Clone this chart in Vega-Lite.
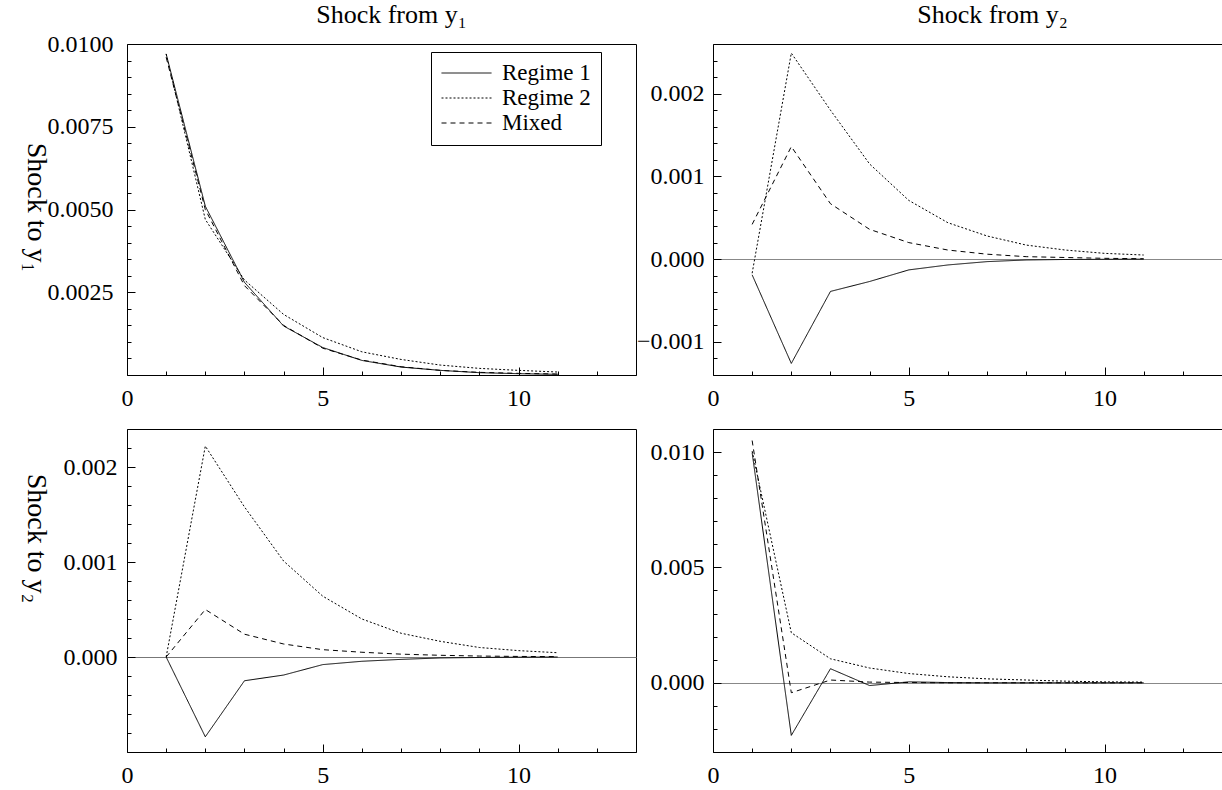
{
  "$schema": "https://vega.github.io/schema/vega-lite/v6.json",
  "padding": {"left": 20, "top": 1, "right": 0, "bottom": 0},
  "background": "white",
  "config": {
    "font": "Liberation Serif",
    "view": {"stroke": "black", "strokeWidth": 1},
    "axis": {
      "labelFont": "Liberation Serif",
      "labelFontSize": 24,
      "labelColor": "black",
      "tickColor": "black",
      "tickWidth": 1,
      "domain": false,
      "grid": false,
      "labelOverlap": false,
      "labelFlush": false,
      "labelBound": false,
      "titleFont": "Liberation Serif",
      "titleFontWeight": "normal",
      "titleColor": "black"
    },
    "title": {"font": "Liberation Serif", "fontSize": 26, "fontWeight": "normal", "color": "black", "anchor": "middle", "baseline": "alphabetic", "offset": 0}
  },
  "bounds": "flush",
  "columns": 2,
  "spacing": {"row": 54, "column": 77},
  "resolve": {"scale": {"strokeDash": "independent"}, "legend": {"strokeDash": "independent"}},
  "datasets": {
    "d11": [
      {"regime": "Regime 1", "t": 1, "v": 0.0097}, {"regime": "Regime 1", "t": 2, "v": 0.0051}, {"regime": "Regime 1", "t": 3, "v": 0.0028}, {"regime": "Regime 1", "t": 4, "v": 0.00148}, {"regime": "Regime 1", "t": 5, "v": 0.00083}, {"regime": "Regime 1", "t": 6, "v": 0.00044}, {"regime": "Regime 1", "t": 7, "v": 0.00024}, {"regime": "Regime 1", "t": 8, "v": 0.00014}, {"regime": "Regime 1", "t": 9, "v": 0.00007}, {"regime": "Regime 1", "t": 10, "v": 0.00004}, {"regime": "Regime 1", "t": 11, "v": 0.00002},
      {"regime": "Regime 2", "t": 1, "v": 0.0097}, {"regime": "Regime 2", "t": 2, "v": 0.0047}, {"regime": "Regime 2", "t": 3, "v": 0.00287}, {"regime": "Regime 2", "t": 4, "v": 0.00183}, {"regime": "Regime 2", "t": 5, "v": 0.00113}, {"regime": "Regime 2", "t": 6, "v": 0.0007}, {"regime": "Regime 2", "t": 7, "v": 0.00047}, {"regime": "Regime 2", "t": 8, "v": 0.0003}, {"regime": "Regime 2", "t": 9, "v": 0.0002}, {"regime": "Regime 2", "t": 10, "v": 0.00014}, {"regime": "Regime 2", "t": 11, "v": 0.00009},
      {"regime": "Mixed", "t": 1, "v": 0.0096}, {"regime": "Mixed", "t": 2, "v": 0.005}, {"regime": "Mixed", "t": 3, "v": 0.0027}, {"regime": "Mixed", "t": 4, "v": 0.0015}, {"regime": "Mixed", "t": 5, "v": 0.00081}, {"regime": "Mixed", "t": 6, "v": 0.00045}, {"regime": "Mixed", "t": 7, "v": 0.00025}, {"regime": "Mixed", "t": 8, "v": 0.00014}, {"regime": "Mixed", "t": 9, "v": 0.00008}, {"regime": "Mixed", "t": 10, "v": 0.00005}, {"regime": "Mixed", "t": 11, "v": 0.00003}
    ],
    "d12": [
      {"regime": "Regime 1", "t": 1, "v": -0.00019}, {"regime": "Regime 1", "t": 2, "v": -0.00126}, {"regime": "Regime 1", "t": 3, "v": -0.00039}, {"regime": "Regime 1", "t": 4, "v": -0.00027}, {"regime": "Regime 1", "t": 5, "v": -0.00013}, {"regime": "Regime 1", "t": 6, "v": -0.00007}, {"regime": "Regime 1", "t": 7, "v": -0.00003}, {"regime": "Regime 1", "t": 8, "v": -0.00001}, {"regime": "Regime 1", "t": 9, "v": -0.000004}, {"regime": "Regime 1", "t": 10, "v": -0.000002}, {"regime": "Regime 1", "t": 11, "v": 0},
      {"regime": "Regime 2", "t": 1, "v": -0.00017}, {"regime": "Regime 2", "t": 2, "v": 0.00249}, {"regime": "Regime 2", "t": 3, "v": 0.0018}, {"regime": "Regime 2", "t": 4, "v": 0.00115}, {"regime": "Regime 2", "t": 5, "v": 0.00071}, {"regime": "Regime 2", "t": 6, "v": 0.00044}, {"regime": "Regime 2", "t": 7, "v": 0.00028}, {"regime": "Regime 2", "t": 8, "v": 0.00017}, {"regime": "Regime 2", "t": 9, "v": 0.00011}, {"regime": "Regime 2", "t": 10, "v": 0.00007}, {"regime": "Regime 2", "t": 11, "v": 0.00005},
      {"regime": "Mixed", "t": 1, "v": 0.00042}, {"regime": "Mixed", "t": 2, "v": 0.00136}, {"regime": "Mixed", "t": 3, "v": 0.00067}, {"regime": "Mixed", "t": 4, "v": 0.00036}, {"regime": "Mixed", "t": 5, "v": 0.0002}, {"regime": "Mixed", "t": 6, "v": 0.00011}, {"regime": "Mixed", "t": 7, "v": 0.00006}, {"regime": "Mixed", "t": 8, "v": 0.00003}, {"regime": "Mixed", "t": 9, "v": 0.00002}, {"regime": "Mixed", "t": 10, "v": 0.00001}, {"regime": "Mixed", "t": 11, "v": 0.000005}
    ],
    "d21": [
      {"regime": "Regime 1", "t": 1, "v": 0}, {"regime": "Regime 1", "t": 2, "v": -0.00084}, {"regime": "Regime 1", "t": 3, "v": -0.00025}, {"regime": "Regime 1", "t": 4, "v": -0.00019}, {"regime": "Regime 1", "t": 5, "v": -0.00008}, {"regime": "Regime 1", "t": 6, "v": -0.000045}, {"regime": "Regime 1", "t": 7, "v": -0.000025}, {"regime": "Regime 1", "t": 8, "v": -0.00001}, {"regime": "Regime 1", "t": 9, "v": -0.000005}, {"regime": "Regime 1", "t": 10, "v": -0.000002}, {"regime": "Regime 1", "t": 11, "v": 0},
      {"regime": "Regime 2", "t": 1, "v": 0}, {"regime": "Regime 2", "t": 2, "v": 0.00222}, {"regime": "Regime 2", "t": 3, "v": 0.00158}, {"regime": "Regime 2", "t": 4, "v": 0.00101}, {"regime": "Regime 2", "t": 5, "v": 0.00064}, {"regime": "Regime 2", "t": 6, "v": 0.0004}, {"regime": "Regime 2", "t": 7, "v": 0.00025}, {"regime": "Regime 2", "t": 8, "v": 0.000165}, {"regime": "Regime 2", "t": 9, "v": 0.0001}, {"regime": "Regime 2", "t": 10, "v": 0.000067}, {"regime": "Regime 2", "t": 11, "v": 0.000045},
      {"regime": "Mixed", "t": 1, "v": 0}, {"regime": "Mixed", "t": 2, "v": 0.0005}, {"regime": "Mixed", "t": 3, "v": 0.00024}, {"regime": "Mixed", "t": 4, "v": 0.000137}, {"regime": "Mixed", "t": 5, "v": 0.000077}, {"regime": "Mixed", "t": 6, "v": 0.00005}, {"regime": "Mixed", "t": 7, "v": 0.00003}, {"regime": "Mixed", "t": 8, "v": 0.000018}, {"regime": "Mixed", "t": 9, "v": 0.00001}, {"regime": "Mixed", "t": 10, "v": 0.000006}, {"regime": "Mixed", "t": 11, "v": 0.000004}
    ],
    "d22": [
      {"regime": "Regime 1", "t": 1, "v": 0.00997}, {"regime": "Regime 1", "t": 2, "v": -0.00228}, {"regime": "Regime 1", "t": 3, "v": 0.00061}, {"regime": "Regime 1", "t": 4, "v": -0.00012}, {"regime": "Regime 1", "t": 5, "v": 0.00004}, {"regime": "Regime 1", "t": 6, "v": 0.00001}, {"regime": "Regime 1", "t": 7, "v": 0}, {"regime": "Regime 1", "t": 8, "v": 0}, {"regime": "Regime 1", "t": 9, "v": 0}, {"regime": "Regime 1", "t": 10, "v": 0}, {"regime": "Regime 1", "t": 11, "v": 0},
      {"regime": "Regime 2", "t": 1, "v": 0.01004}, {"regime": "Regime 2", "t": 2, "v": 0.00217}, {"regime": "Regime 2", "t": 3, "v": 0.00104}, {"regime": "Regime 2", "t": 4, "v": 0.00064}, {"regime": "Regime 2", "t": 5, "v": 0.0004}, {"regime": "Regime 2", "t": 6, "v": 0.00026}, {"regime": "Regime 2", "t": 7, "v": 0.00017}, {"regime": "Regime 2", "t": 8, "v": 0.00012}, {"regime": "Regime 2", "t": 9, "v": 0.00007}, {"regime": "Regime 2", "t": 10, "v": 0.00004}, {"regime": "Regime 2", "t": 11, "v": 0.00003},
      {"regime": "Mixed", "t": 1, "v": 0.0105}, {"regime": "Mixed", "t": 2, "v": -0.00043}, {"regime": "Mixed", "t": 3, "v": 0.00012}, {"regime": "Mixed", "t": 4, "v": 0.00003}, {"regime": "Mixed", "t": 5, "v": 0.00001}, {"regime": "Mixed", "t": 6, "v": 0}, {"regime": "Mixed", "t": 7, "v": 0}, {"regime": "Mixed", "t": 8, "v": 0}, {"regime": "Mixed", "t": 9, "v": 0}, {"regime": "Mixed", "t": 10, "v": 0}, {"regime": "Mixed", "t": 11, "v": 0}
    ]
  },
  "concat": [
    {
      "width": 509, "height": 331,
      "title": {"text": "Shock from y₁", "dx": 10},
      "data": {"name": "d11"},
      "mark": {"type": "line", "color": "black", "strokeWidth": 1},
      "encoding": {
        "x": {"field": "t", "type": "quantitative", "scale": {"domain": [0, 13], "nice": false},
          "axis": {"title": null, "values": [0,1,2,3,4,5,6,7,8,9,10,11,12,13], "labelExpr": "datum.value % 5 === 0 ? datum.label : ''", "tickSize": {"condition": {"test": "datum.value % 5 === 0", "value": -8}, "value": -4}, "labelPadding": 19}},
        "y": {"field": "v", "type": "quantitative", "scale": {"domain": [0, 0.01], "nice": false, "zero": false},
          "axis": {"title": "Shock to y₁", "titleAngle": 90, "titleFontSize": 28, "titleX": -92, "titleY": 163, "titleAlign": "center", "titleBaseline": "middle",
            "values": [0,0.0005,0.001,0.0015,0.002,0.0025,0.003,0.0035,0.004,0.0045,0.005,0.0055,0.006,0.0065,0.007,0.0075,0.008,0.0085,0.009,0.0095,0.01],
            "format": ".4f",
            "labelExpr": "round(datum.value*2000) % 5 === 0 && datum.value > 0.0001 ? datum.label : ''",
            "tickSize": {"condition": {"test": "round(datum.value*2000) % 5 === 0", "value": -8}, "value": -4}, "labelPadding": 22}},
        "strokeDash": {"field": "regime", "type": "nominal",
          "scale": {"domain": ["Regime 1", "Regime 2", "Mixed"], "range": [[1, 0], [2, 2], [5, 4]]},
          "legend": {"orient": "none", "legendX": 304, "legendY": 8, "title": null, "strokeColor": "black", "fillColor": "white", "padding": 10,
            "labelFont": "Liberation Serif", "labelFontSize": 23, "labelColor": "black", "symbolType": "stroke", "symbolSize": 2500, "symbolStrokeWidth": 1, "symbolStrokeColor": "black", "labelOffset": 10, "rowPadding": 2, "clipHeight": 22}}
      }
    },
    {
      "width": 509, "height": 331,
      "title": {"text": "Shock from y₂", "dx": 25},
      "data": {"name": "d12"},
      "mark": {"type": "line", "color": "black", "strokeWidth": 1},
      "encoding": {
        "x": {"field": "t", "type": "quantitative", "scale": {"domain": [0, 13], "nice": false},
          "axis": {"title": null, "values": [0,1,2,3,4,5,6,7,8,9,10,11,12,13], "labelExpr": "datum.value % 5 === 0 ? datum.label : ''", "tickSize": {"condition": {"test": "datum.value % 5 === 0", "value": -8}, "value": -4}, "labelPadding": 19}},
        "y": {"field": "v", "type": "quantitative", "scale": {"domain": [-0.0014, 0.0026], "nice": false, "zero": false},
          "axis": {"title": null,
            "values": [-0.0014,-0.0012,-0.001,-0.0008,-0.0006,-0.0004,-0.0002,0,0.0002,0.0004,0.0006,0.0008,0.001,0.0012,0.0014,0.0016,0.0018,0.002,0.0022,0.0024,0.0026],
            "format": ".3f",
            "labelExpr": "round(datum.value*5000) % 5 === 0 ? datum.label : ''",
            "grid": true, "gridColor": "#888888", "gridWidth": 1,
            "gridOpacity": {"condition": {"test": "abs(datum.value) < 0.0000001", "value": 1}, "value": 0},
            "tickSize": {"condition": {"test": "round(datum.value*5000) % 5 === 0", "value": -8}, "value": -4}, "labelPadding": 17}},
        "strokeDash": {"field": "regime", "type": "nominal",
          "scale": {"domain": ["Regime 1", "Regime 2", "Mixed"], "range": [[1, 0], [2, 2], [5, 4]]}, "legend": null}
      }
    },
    {
      "width": 509, "height": 323,
      "data": {"name": "d21"},
      "mark": {"type": "line", "color": "black", "strokeWidth": 1},
      "encoding": {
        "x": {"field": "t", "type": "quantitative", "scale": {"domain": [0, 13], "nice": false},
          "axis": {"title": null, "values": [0,1,2,3,4,5,6,7,8,9,10,11,12,13], "labelExpr": "datum.value % 5 === 0 ? datum.label : ''", "tickSize": {"condition": {"test": "datum.value % 5 === 0", "value": -8}, "value": -4}, "labelPadding": 19}},
        "y": {"field": "v", "type": "quantitative", "scale": {"domain": [-0.001, 0.0024], "nice": false, "zero": false},
          "axis": {"title": "Shock to y₂", "titleAngle": 90, "titleFontSize": 28, "titleX": -92, "titleY": 109, "titleAlign": "center", "titleBaseline": "middle",
            "values": [-0.001,-0.0008,-0.0006,-0.0004,-0.0002,0,0.0002,0.0004,0.0006,0.0008,0.001,0.0012,0.0014,0.0016,0.0018,0.002,0.0022,0.0024],
            "format": ".3f",
            "labelExpr": "round(datum.value*5000) % 5 === 0 && datum.value > -0.0009 ? datum.label : ''",
            "grid": true, "gridColor": "#777777", "gridWidth": 1,
            "gridOpacity": {"condition": {"test": "abs(datum.value) < 0.0000001", "value": 1}, "value": 0},
            "tickSize": {"condition": {"test": "round(datum.value*5000) % 5 === 0", "value": -8}, "value": -4}, "labelPadding": 18}},
        "strokeDash": {"field": "regime", "type": "nominal",
          "scale": {"domain": ["Regime 1", "Regime 2", "Mixed"], "range": [[1, 0], [2, 2], [5, 4]]}, "legend": null}
      }
    },
    {
      "width": 509, "height": 323,
      "data": {"name": "d22"},
      "mark": {"type": "line", "color": "black", "strokeWidth": 1},
      "encoding": {
        "x": {"field": "t", "type": "quantitative", "scale": {"domain": [0, 13], "nice": false},
          "axis": {"title": null, "values": [0,1,2,3,4,5,6,7,8,9,10,11,12,13], "labelExpr": "datum.value % 5 === 0 ? datum.label : ''", "tickSize": {"condition": {"test": "datum.value % 5 === 0", "value": -8}, "value": -4}, "labelPadding": 19}},
        "y": {"field": "v", "type": "quantitative", "scale": {"domain": [-0.003, 0.011], "nice": false, "zero": false},
          "axis": {"title": null,
            "values": [-0.003,-0.002,-0.001,0,0.001,0.002,0.003,0.004,0.005,0.006,0.007,0.008,0.009,0.01,0.011],
            "format": ".3f",
            "labelExpr": "round(datum.value*1000) % 5 === 0 ? datum.label : ''",
            "grid": true, "gridColor": "#888888", "gridWidth": 1,
            "gridOpacity": {"condition": {"test": "abs(datum.value) < 0.0000001", "value": 1}, "value": 0},
            "tickSize": {"condition": {"test": "round(datum.value*1000) % 5 === 0", "value": -8}, "value": -4}, "labelPadding": 17}},
        "strokeDash": {"field": "regime", "type": "nominal",
          "scale": {"domain": ["Regime 1", "Regime 2", "Mixed"], "range": [[1, 0], [2, 2], [5, 4]]}, "legend": null}
      }
    }
  ]
}
